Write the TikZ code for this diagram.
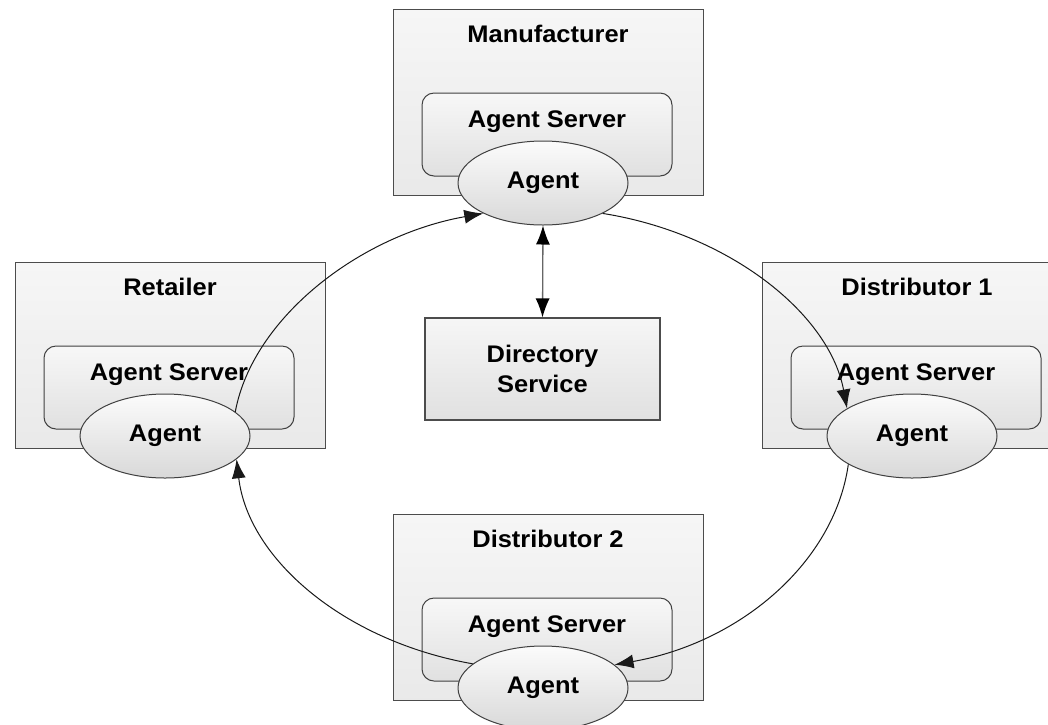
\documentclass[tikz,border=0pt]{standalone}
\usepackage{fontspec}
\setmainfont{Liberation Sans}[FakeStretch=1.06]
\usetikzlibrary{arrows.meta,shapes.geometric}
\newcommand\drawsite[4]{%
  \node[outerbox] (#1box) at (#2,-#3) {};
  \node[lbl, anchor=base] (#1title) at (#2+155,-#3-33) {#4};
  \node[serverbox] (#1srv) at (#2+154,-#3-125.5) {};
  \node[lbl, anchor=base] (#1srvtext) at (#2+154,-#3-118) {Agent Server};
  \node[agentell] (#1ag) at (#2+150,-#3-174) {Agent};
}
\begin{document}
\begin{tikzpicture}[x=1pt,y=1pt,
  lbl/.style={font=\fontsize{24}{30}\selectfont\bfseries, text=black, inner sep=0pt},
  outerbox/.style={rectangle, anchor=north west, draw=black!70, line width=1.1pt,
    top color=gray!7, bottom color=gray!17, minimum width=310pt, minimum height=186pt, inner sep=0pt},
  serverbox/.style={rectangle, rounded corners=12pt, draw=black!75, line width=1pt,
    top color=gray!6, bottom color=gray!24, minimum width=250pt, minimum height=83pt, inner sep=0pt},
  agentell/.style={ellipse, draw=black!75, line width=1pt, top color=gray!3, bottom color=gray!30,
    minimum width=170pt, minimum height=84pt, inner sep=0pt,
    font=\fontsize{24}{30}\selectfont\bfseries},
  dirbox/.style={rectangle, draw=black!70, line width=1.1pt, top color=gray!7, bottom color=gray!24,
    minimum width=235pt, minimum height=102pt, align=center, inner sep=0pt,
    font=\fontsize{24}{30}\selectfont\bfseries},
  flow/.style={draw=black!90, line width=1pt, -{Latex[length=19pt,width=14pt]}},
  dflow/.style={draw=black!60, line width=1.3pt,
    {Latex[length=19pt,width=14pt,color=black]}-{Latex[length=19pt,width=14pt,color=black]}}
]
\useasboundingbox (0,0) rectangle (1048,-724);
\fill[white] (0,0) rectangle (1048,-724);
\clip (0,0) rectangle (1048,-724);

\drawsite{man}{393}{9}{Manufacturer}
\drawsite{ret}{15}{262}{Retailer}
\drawsite{dia}{762}{262}{Distributor 1}
\drawsite{dib}{393}{514}{Distributor 2}

\node[dirbox] (dir) at (542.5,-369) {Directory\\Service};

\draw[dflow] (manag.south) -- (dir.north);

\draw[flow] (retag.19) .. controls +(79.5:96) and +(190:125) .. (manag.207);
\draw[flow] (manag.333) .. controls +(-9:127) and +(100.5:97) .. (diaag.157);
\draw[flow] (diaag.204) .. controls +(-98:98) and +(10:129) .. (dibag.18);
\draw[flow] (dibag.161) .. controls +(170:131) and +(276.6:100) .. (retag.342);
\end{tikzpicture}
\end{document}
